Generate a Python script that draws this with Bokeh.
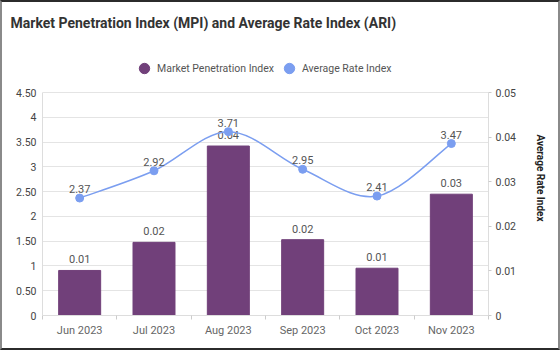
from bokeh.plotting import figure
from bokeh.models import (Range1d, LinearAxis, FixedTicker, Legend, LegendItem,
                          ColumnDataSource)
from bokeh.core.properties import value
from bokeh.embed import file_html
from bokeh.resources import INLINE

# ---- data ----
months = ["Jun 2023", "Jul 2023", "Aug 2023", "Sep 2023", "Oct 2023", "Nov 2023"]
mpi = [0.0101, 0.0164, 0.0380, 0.0170, 0.0106, 0.0272]   # Market Penetration Index (bars, right axis)
ari = [2.37, 2.92, 3.71, 2.95, 2.41, 3.47]               # Average Rate Index (line, left axis)
left_ticks = [0, 0.5, 1, 1.5, 2, 2.5, 3, 3.5, 4, 4.5]
left_tick_labels = ["0", "0.50", "1", "1.50", "2", "2.50", "3", "3.50", "4", "4.50"]
right_ticks = [0, 0.01, 0.02, 0.03, 0.04, 0.05]
right_tick_labels = ["0", "0.01", "0.02", "0.03", "0.04", "0.05"]

FONT = "Roboto"
BAR = "#71407a"
LINE = "#7b9ef0"
n = len(months)
xs = [i + 0.5 for i in range(n)]

# the frame extends above the axes' top (4.5 / 0.05) to leave room for the legend
AX_H = 223       # pixel height of the 0..4.5 axis span
FRAME_H = 275
k = FRAME_H / AX_H
left_max, right_max = left_ticks[-1], right_ticks[-1]

p = figure(frame_width=446, frame_height=FRAME_H, output_backend="svg", toolbar_location=None,
           x_range=Range1d(0, n), y_range=Range1d(0, left_max * k),
           min_border_left=40, min_border_right=70, min_border_bottom=33, min_border_top=38)
p.styles = {"border-top": "2px solid #2b2b2b", "border-bottom": "2px solid #2b2b2b",
            "border-left": "2px solid #8a8a8a", "border-right": "2px solid #8a8a8a"}
p.extra_y_ranges = {"r": Range1d(0, right_max * k)}
p.outline_line_color = None
p.background_fill_color = "white"
p.border_fill_color = "white"

# title
p.title.text = "Market Penetration Index (MPI) and Average Rate Index (ARI)"
p.title.text_font = FONT
p.title.text_font_size = "14px"
p.title.text_font_style = "bold"
p.title.text_color = "#333333"
p.title.align = "left"
p.title.offset = -32
p.title.standoff = 20

# axes
p.xaxis.ticker = FixedTicker(ticks=xs, minor_ticks=list(range(n + 1)))
p.xaxis.major_label_overrides = {x: m for x, m in zip(xs, months)}
p.xaxis.major_tick_line_color = None
p.xaxis.minor_tick_line_color = "#cccccc"
p.xaxis.minor_tick_out = 4
p.xaxis.minor_tick_in = 0
p.xaxis.axis_line_color = "#dddddd"
p.xaxis.major_label_text_font = FONT
p.xaxis.major_label_text_font_size = "11px"
p.xaxis.major_label_text_color = "#666666"
p.xaxis.major_label_standoff = 2

p.yaxis.ticker = FixedTicker(ticks=left_ticks)
p.yaxis.bounds = (0, left_max)
p.yaxis.major_label_overrides = {t: s for t, s in zip(left_ticks, left_tick_labels)}
p.yaxis.major_tick_line_color = None
p.yaxis.minor_tick_line_color = None
p.yaxis.axis_line_color = "#dddddd"
p.yaxis.major_label_text_font = FONT
p.yaxis.major_label_text_font_size = "10.5px"
p.yaxis.major_label_text_color = "#444444"
p.yaxis.major_label_standoff = 0

raxis = LinearAxis(y_range_name="r", ticker=FixedTicker(ticks=right_ticks),
                   axis_label="Average Rate Index", bounds=(0, right_max))
raxis.major_label_overrides = {t: s for t, s in zip(right_ticks, right_tick_labels)}
raxis.major_tick_line_color = "#cccccc"
raxis.major_tick_out = 3
raxis.major_tick_in = 0
raxis.minor_tick_line_color = None
raxis.axis_line_color = "#dddddd"
raxis.major_label_text_font = FONT
raxis.major_label_text_font_size = "10.5px"
raxis.major_label_text_color = "#444444"
raxis.major_label_standoff = 4
raxis.axis_label_text_font = FONT
raxis.axis_label_text_font_size = "10px"
raxis.axis_label_text_font_style = "bold"
raxis.axis_label_text_color = "#222222"
raxis.axis_label_standoff = 16
p.add_layout(raxis, "right")

p.xgrid.grid_line_color = None
p.ygrid.grid_line_color = "#e4e4e4"
p.ygrid.ticker = FixedTicker(ticks=left_ticks)

# bars
src = ColumnDataSource(dict(x=xs, mpi=mpi, ari=ari,
                            mpi_lbl=["%.2f" % v for v in mpi],
                            ari_lbl=["%.2f" % v for v in ari]))
p.vbar(x="x", top="mpi", width=0.565, source=src, y_range_name="r",
       fill_color=BAR, line_color=BAR)
p.text(x="x", y="mpi", text="mpi_lbl", source=src, y_range_name="r",
       text_align="center", text_baseline="bottom", y_offset=-7,
       text_font=value(FONT), text_font_size="11px", text_color="#555555")

# smooth line (Catmull-Rom through the data points, drawn as bezier segments)
px = [xs[0]] + xs + [xs[-1]]
py = [ari[0]] + ari + [ari[-1]]
seg = dict(x0=[], y0=[], x1=[], y1=[], cx0=[], cy0=[], cx1=[], cy1=[])
for i in range(n - 1):
    a, b, c, d = i, i + 1, i + 2, i + 3
    seg["x0"].append(px[b]); seg["y0"].append(py[b])
    seg["x1"].append(px[c]); seg["y1"].append(py[c])
    seg["cx0"].append(px[b] + (px[c] - px[a]) / 6); seg["cy0"].append(py[b] + (py[c] - py[a]) / 6)
    seg["cx1"].append(px[c] - (px[d] - px[b]) / 6); seg["cy1"].append(py[c] - (py[d] - py[b]) / 6)
p.bezier(x0="x0", y0="y0", x1="x1", y1="y1", cx0="cx0", cy0="cy0", cx1="cx1", cy1="cy1",
         source=ColumnDataSource(seg), line_color=LINE, line_width=1.5)
p.scatter(x="x", y="ari", source=src, size=8, fill_color=LINE, line_color=LINE)
p.text(x="x", y="ari", text="ari_lbl", source=src,
       text_align="center", text_baseline="bottom", y_offset=-5,
       text_font=value(FONT), text_font_size="11px", text_color="#555555")

# legend (circle swatches), placed in the top strip of the frame
leg_mpi = p.scatter(x=[xs[0]], y=[-10], marker="circle", fill_color=BAR, line_color=BAR)
leg_ari = p.scatter(x=[xs[0]], y=[-10], marker="circle", fill_color=LINE, line_color=LINE)
legend = Legend(items=[LegendItem(label="Market Penetration Index", renderers=[leg_mpi]),
                       LegendItem(label="Average Rate Index", renderers=[leg_ari])],
                orientation="horizontal", location=(89, 234),
                glyph_width=26, glyph_height=26, label_standoff=0, spacing=2,
                padding=0, margin=0, border_line_color=None,
                background_fill_alpha=0,
                label_text_font=FONT, label_text_font_size="10.5px",
                label_text_color="#555555")
p.add_layout(legend, "center")

open("out.html", "w").write(file_html(p, INLINE))
